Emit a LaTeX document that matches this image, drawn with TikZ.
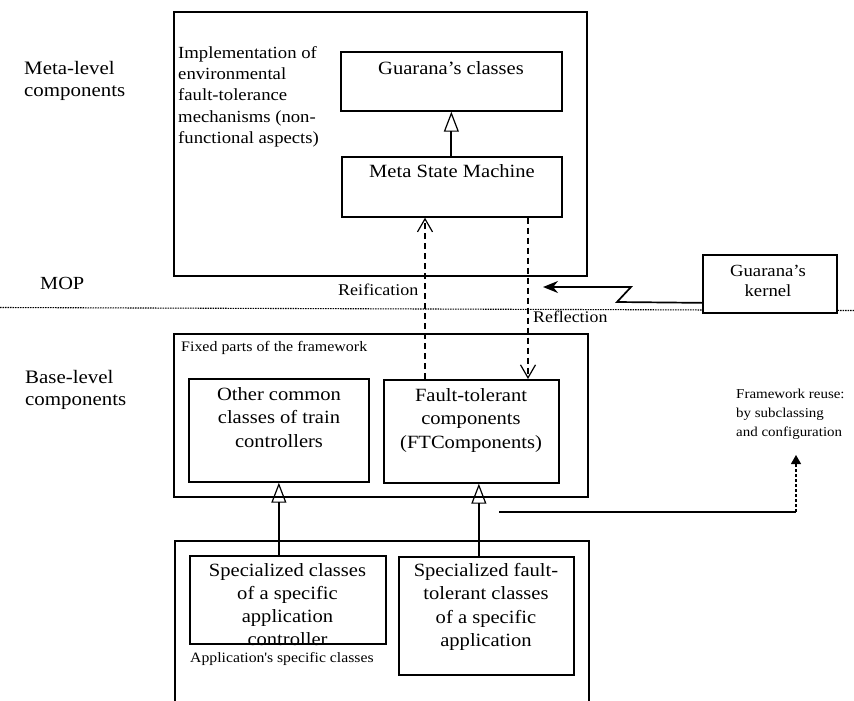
\documentclass[tikz,border=0pt]{standalone}
\usepackage{fontspec}
\setmainfont{Liberation Serif}[FakeStretch=1.1]
\usetikzlibrary{arrows.meta}
\begin{document}
\begin{tikzpicture}[x=1pt,y=-1pt,
  frame/.style={draw, line width=1.8pt, inner sep=0pt, anchor=north west},
  cls/.style={draw, line width=1.7pt, fill=white, inner sep=0pt, anchor=north west},
  lbl/.style={inner sep=0pt, anchor=north west, align=left},
  ctr/.style={inner sep=0pt, anchor=north, align=center},
  boxfont/.style={font=\fontsize{18.7}{23.5}\selectfont},
  inh/.style={line width=1.8pt, -{Triangle[open, length=20pt, width=15pt, line width=1.2pt]}},
  metalink/.style={line width=1.5pt, dash pattern=on 6pt off 4pt,
    -{Straight Barb[length=13pt, width=15pt, line width=1.2pt]}},
]
\useasboundingbox (0,0) rectangle (854,701);

% MOP separator
\draw[line width=1.1pt, dash pattern=on 1.5pt off 1pt] (0,307.5) -- (854,310.5);

% outer frames
\node[frame, minimum width=413pt, minimum height=264pt] (metabox) at (173,11) {};
\node[frame, minimum width=414pt, minimum height=163pt] (fixedbox) at (173,333) {};
\draw[line width=1.8pt] (175,701) -- (175,541) -- (589,541) -- (589,701);

% level captions
\node[lbl, font=\fontsize{19}{22}\selectfont] (metalvl) at (24,58.6) {\strut Meta-level\\components};
\node[lbl, font=\fontsize{19}{22}\selectfont] (baselvl) at (25,368) {\strut Base-level\\components};
\node[lbl, font=\fontsize{18.5}{22}\selectfont] (mop) at (40,273.6) {\strut MOP};

% meta level
\node[lbl, font=\fontsize{17}{21.4}\selectfont] (impl) at (178,43)
  {\strut Implementation of\\environmental\\fault-tolerance\\mechanisms (non-\\functional aspects)};
\node[cls, minimum width=221pt, minimum height=59pt] (gc) at (340,51) {};
\node[ctr, boxfont] (gctxt) at (451,57.5) {\strut Guarana’s classes};
\node[cls, minimum width=220pt, minimum height=60pt] (msm) at (341,156) {};
\node[ctr, boxfont] (msmtxt) at (452,160.5) {\strut Meta State Machine};
\draw[inh] (msm.north -| gc.south) -- (gc.south);

% kernel
\node[cls, minimum width=134pt, minimum height=58pt] (kernel) at (702,254) {};
\node[ctr, font=\fontsize{17}{20}\selectfont] (kerneltxt) at (768,262) {\strut Guarana’s\\kernel};
\coordinate (mopin) at (543,287);
\draw[line width=1.7pt, -{Stealth[length=15pt, width=12pt]}]
  ([yshift=-19pt]kernel.west) -- (617,302) -- (631,287) -- (mopin);

% base level: fixed part
\node[lbl, font=\fontsize{14.5}{18}\selectfont] (fixedtxt) at (181,338.4) {\strut Fixed parts of the framework};
\node[cls, minimum width=180pt, minimum height=103pt] (oc) at (188,378) {};
\node[ctr, boxfont] (octxt) at (279,383.5) {\strut Other common\\classes of train\\controllers};
\node[cls, minimum width=175pt, minimum height=103pt] (ft) at (383,379) {};
\node[ctr, boxfont] (fttxt) at (471,384.5) {\strut Fault-tolerant\\components\\(FTComponents)};

% reification / reflection
\coordinate (rx) at (425,0);
\coordinate (fx) at (528,0);
\draw[metalink] (rx |- ft.north) -- (rx |- msm.south);
\draw[metalink] (fx |- msm.south) -- (fx |- ft.north);
\node[lbl, font=\fontsize{16.4}{20}\selectfont] (reif) at (338,281) {\strut Reification};
\node[lbl, font=\fontsize{16.2}{20}\selectfont] (refl) at (533,308) {\strut Reflection};

% application specific part
\node[cls, minimum width=196pt, minimum height=88pt] (sc) at (189,555) {};
\node[ctr, font=\fontsize{18.7}{23}\selectfont] (sctxt) at (287.5,560)
  {\strut Specialized classes\\of a specific\\application\\controller};
\node[cls, minimum width=175pt, minimum height=118pt] (sft) at (398,556) {};
\node[ctr, boxfont] (sfttxt) at (486,559.5)
  {\strut Specialized fault-\\tolerant classes\\of a specific\\application};
\node[lbl, font=\fontsize{14.3}{18}\selectfont] (apptxt) at (190,649.4) {\strut Application\textquotesingle s specific classes};

\draw[inh] (oc.south |- sc.north) -- (oc.south);
\coordinate (ftin) at ([xshift=7.5pt]ft.south);
\draw[inh] (ftin |- sft.north) -- (ftin);

% framework reuse
\node[lbl, font=\fontsize{13.6}{19}\selectfont] (reuse) at (736,384.7)
  {\strut Framework reuse:\\by subclassing\\and configuration};
\coordinate (fwstart) at (499,512);
\coordinate (fwtip) at (796,455);
\draw[line width=1.3pt] (fwstart) -- (fwtip |- fwstart);
\draw[line width=1.1pt, dash pattern=on 3pt off 2pt, -{Triangle[length=9pt, width=10pt]}]
  (fwtip |- fwstart) -- (fwtip);
\end{tikzpicture}
\end{document}
